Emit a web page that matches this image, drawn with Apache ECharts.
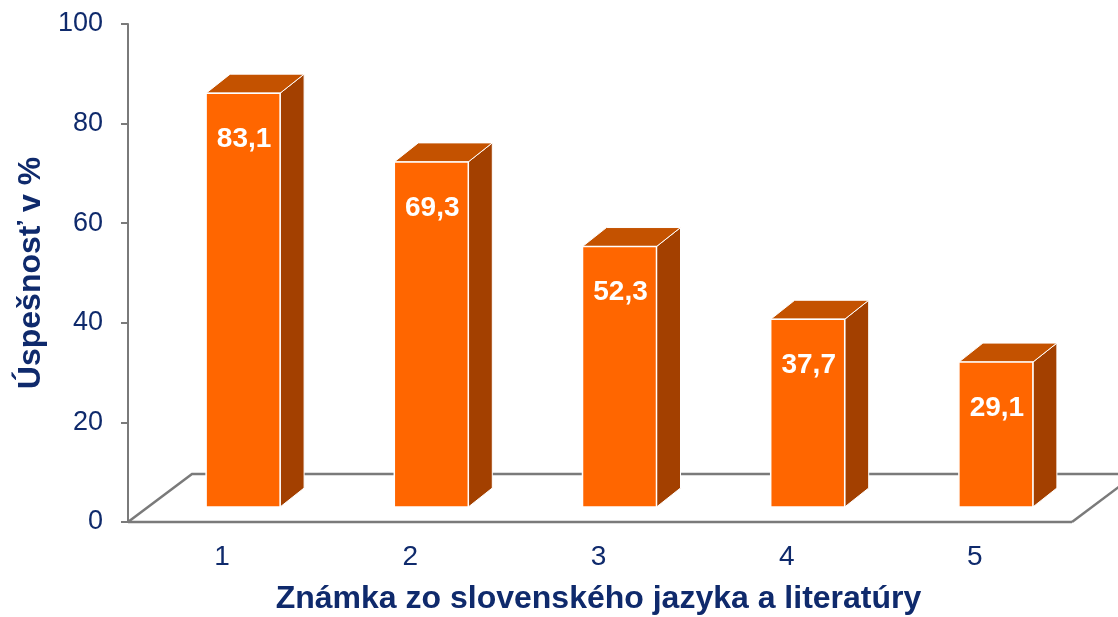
<!DOCTYPE html>
<html>
<head>
<meta charset="utf-8">
<script src="https://cdn.jsdelivr.net/npm/echarts@6/dist/echarts.min.js"></script>
<style>
html,body{margin:0;padding:0;background:#fff;overflow:hidden;}
#c{width:1118px;height:617px;}
</style>
</head>
<body>
<div id="c"></div>
<script>
var categories = ['1', '2', '3', '4', '5'];
var values = [83.1, 69.3, 52.3, 37.7, 29.1];
var valueLabels = ['83,1', '69,3', '52,3', '37,7', '29,1'];
var yTicks = [0, 20, 40, 60, 80, 100];

var NAVY = '#0f2a6c';
var GRAY = '#7a7a7a';
var FONT = '"Liberation Sans", Arial, sans-serif';

var chart = echarts.init(document.getElementById('c'), null, {renderer: 'canvas'});

function renderItem(params, api) {
  var idx = api.value(0);
  var val = api.value(1);
  var base = api.coord([idx, 0]);
  var top = api.coord([idx, val]);
  var band = api.size([1, 0])[0];
  var lift = 15;          // front faces sit slightly in front of the wall
  var shiftX = 21;
  var w = 74;
  var dx = 24, dy = -19;
  var cx = base[0] + shiftX;
  var x0 = cx - w / 2, x1 = cx + w / 2;
  var yb = base[1] - lift, yt = top[1] - lift;
  var children = [];

  if (params.dataIndex === 0) {
    var fl = base[0] - band / 2;
    var fr = fl + band * categories.length + 3;
    var fdx = 64, fdy = -48;
    var fy = base[1];
    var ls = {stroke: GRAY, lineWidth: 2.5, fill: null};
    children.push({type: 'polyline', z2: 0, shape: {points: [[fl, fy], [fr, fy]]}, style: ls});
    children.push({type: 'polyline', z2: 0, shape: {points: [[fl, fy], [fl + fdx, fy + fdy], [fr + fdx + 200, fy + fdy]]}, style: ls});
    children.push({type: 'polyline', z2: 0, shape: {points: [[fr, fy], [fr + fdx, fy + fdy]]}, style: ls});
  }

  children.push({
    type: 'polygon', z2: 10,
    shape: {points: [[x1, yb], [x1 + dx, yb + dy], [x1 + dx, yt + dy], [x1, yt]]},
    style: {fill: '#a34000', stroke: '#ffffff', lineWidth: 1}
  });
  children.push({
    type: 'polygon', z2: 10,
    shape: {points: [[x0, yt], [x0 + dx, yt + dy], [x1 + dx, yt + dy], [x1, yt]]},
    style: {fill: '#c45200', stroke: '#ffffff', lineWidth: 1}
  });
  children.push({
    type: 'rect', z2: 11,
    shape: {x: x0, y: yt, width: w, height: yb - yt},
    style: {fill: '#ff6600', stroke: '#ffffff', lineWidth: 1.5}
  });
  children.push({
    type: 'text', z2: 12,
    style: {
      text: valueLabels[params.dataIndex],
      x: cx + 1, y: yt + 46,
      fill: '#ffffff',
      font: 'bold 28px ' + FONT,
      align: 'center', verticalAlign: 'middle'
    }
  });
  return {type: 'group', children: children};
}

var option = {
  animation: false,
  backgroundColor: '#ffffff',
  grid: {left: 128, right: 49, top: 24, bottom: 95, outerBoundsMode: 'none', containLabel: false},
  xAxis: {
    type: 'category',
    data: categories,
    axisLine: {show: false},
    axisTick: {show: false},
    axisLabel: {color: NAVY, fontSize: 28, fontFamily: FONT, margin: 21},
    name: 'Známka zo slovenského jazyka a literatúry',
    nameLocation: 'middle',
    nameGap: 61,
    nameTextStyle: {color: NAVY, fontSize: 32, fontWeight: 'bold', fontFamily: FONT}
  },
  yAxis: {
    type: 'value',
    min: yTicks[0],
    max: yTicks[yTicks.length - 1],
    interval: yTicks[1] - yTicks[0],
    splitLine: {show: false},
    axisLine: {show: true, lineStyle: {color: GRAY, width: 2}},
    axisTick: {show: true, length: 7, lineStyle: {color: GRAY, width: 2}},
    axisLabel: {color: NAVY, fontSize: 27, fontFamily: FONT, margin: 25},
    name: 'Úspešnosť v %',
    nameLocation: 'middle',
    nameGap: 80,
    nameRotate: 90,
    nameTextStyle: {color: NAVY, fontSize: 32, fontWeight: 'bold', fontFamily: FONT}
  },
  series: [{
    type: 'custom',
    renderItem: renderItem,
    clip: false,
    data: values.map(function (v, i) { return [i, v]; })
  }]
};
chart.setOption(option);
</script>
</body>
</html>
